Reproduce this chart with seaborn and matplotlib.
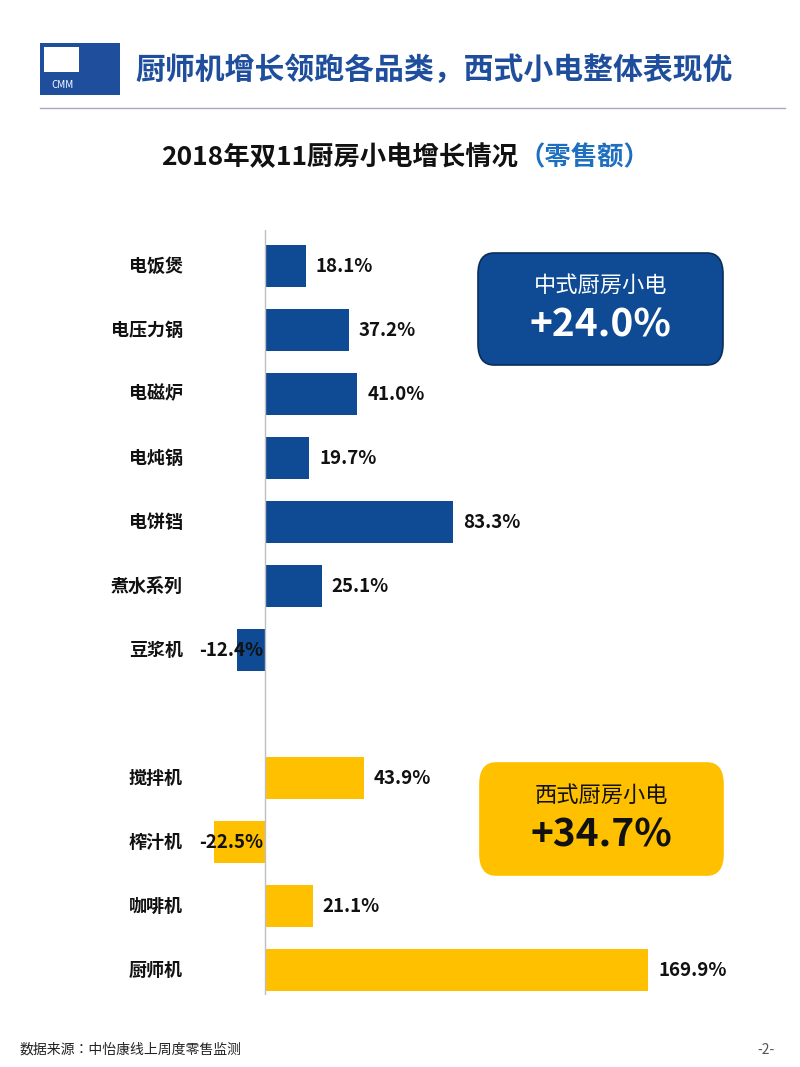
import matplotlib
matplotlib.use("Agg")
import matplotlib.pyplot as plt
from matplotlib.patches import FancyBboxPatch, Rectangle
from matplotlib import font_manager
import seaborn as sns
import pandas as pd

names = {f.name for f in font_manager.fontManager.ttflist}
cjk = [n for n in ["Noto Sans CJK SC", "Noto Sans CJK JP", "Noto Sans CJK TC", "Noto Sans CJK KR"] if n in names]
plt.rcParams["font.family"] = cjk + ["DejaVu Sans"]

chinese_cats = ["电饭煲", "电压力锅", "电磁炉", "电炖锅", "电饼铛", "煮水系列", "豆浆机"]
chinese_vals = [18.1, 37.2, 41.0, 19.7, 83.3, 25.1, -12.4]
western_cats = ["搅拌机", "榨汁机", "咖啡机", "厨师机"]
western_vals = [43.9, -22.5, 21.1, 169.9]

BLUE = "#0F4A94"
YELLOW = "#FFC000"

pos = list(range(len(chinese_cats))) + [len(chinese_cats) + 1 + i for i in range(len(western_cats))]
df = pd.DataFrame({
    "cat": chinese_cats + western_cats,
    "val": chinese_vals + western_vals,
    "pos": pos,
    "grp": ["中式"] * len(chinese_cats) + ["西式"] * len(western_cats),
})

fig = plt.figure(figsize=(8, 10.67), dpi=100)
ax = fig.add_axes([100 / 800, 1 - 995 / 1067, 680 / 800, (995 - 230) / 1067])
sns.barplot(data=df, x="val", y="pos", hue="grp", orient="h", native_scale=True,
            palette={"中式": BLUE, "西式": YELLOW}, width=0.66, legend=False, ax=ax, saturation=1)
ax.set_xlim(-73.2, 228.5)
ax.set_ylim(11.39, -0.5625)
for s in ["top", "right", "bottom", "left"]:
    ax.spines[s].set_visible(False)
ax.set_xticks([]); ax.set_yticks([])
ax.set_xlabel(""); ax.set_ylabel("")
ax.axvline(0, color="#BFBFBF", lw=1)

for c, v, p in zip(df["cat"], df["val"], df["pos"]):
    ax.text(-36.5, p, c, ha="right", va="center", fontsize=13, fontweight="bold", color="#111111")
    if v >= 0:
        ax.text(v + 4.5, p, f"{v:.1f}%", ha="left", va="center", fontsize=13.5, fontweight="bold", color="#111111")
    else:
        ax.text(-0.8, p, f"{v:.1f}%", ha="right", va="center", fontsize=13.5, fontweight="bold", color="#111111")

# header
fig.patches.append(Rectangle((40 / 800, 1 - 95 / 1067), 80 / 800, 52 / 1067, transform=fig.transFigure,
                             facecolor="#1F4E9C", edgecolor="none"))
fig.patches.append(Rectangle((44 / 800, 1 - 72 / 1067), 35 / 800, 25 / 1067, transform=fig.transFigure,
                             facecolor="white", edgecolor="none"))
fig.text(62 / 800, 1 - 85 / 1067, "CMM", color="white", fontsize=7, ha="center", va="center", style="italic")
fig.text(135 / 800, 1 - 70 / 1067, "厨师机增长领跑各品类，西式小电整体表现优", color="#1F4E9C",
         fontsize=21.5, fontweight="bold", va="center", ha="left")
fig.add_artist(plt.Line2D([40 / 800, 785 / 800], [1 - 108 / 1067] * 2, color="#A6A6C8", lw=1))

fig.text(518 / 800, 1 - 158 / 1067, "2018年双11厨房小电增长情况", fontsize=19, fontweight="bold",
         ha="right", va="center", color="#111111")
fig.text(518 / 800, 1 - 158 / 1067, "（零售额）", fontsize=19, fontweight="bold",
         ha="left", va="center", color="#1F6FC0")

# boxes
def box(x0, y0, x1, y1, fc, ec, tc, t1, t2):
    fig.patches.append(FancyBboxPatch((x0 / 800, 1 - y1 / 1067), (x1 - x0) / 800, (y1 - y0) / 1067,
                                      boxstyle="round,pad=0,rounding_size=0.02", transform=fig.transFigure,
                                      facecolor=fc, edgecolor=ec, lw=1.2))
    xc = (x0 + x1) / 2 / 800
    fig.text(xc, 1 - (y0 + 32) / 1067, t1, color=tc, fontsize=16, ha="center", va="center")
    fig.text(xc, 1 - (y0 + 72) / 1067, t2, color=tc, fontsize=28, fontweight="bold", ha="center", va="center")

box(478, 253, 723, 365, "#0F4A94", "#0A2E5C", "white", "中式厨房小电", "+24.0%")
box(480, 763, 723, 875, YELLOW, YELLOW, "#111111", "西式厨房小电", "+34.7%")

fig.text(20 / 800, 1 - 1050 / 1067, "数据来源：中怡康线上周度零售监测", fontsize=10, va="center", color="#222222")
fig.text(775 / 800, 1 - 1050 / 1067, "-2-", fontsize=10, va="center", ha="right", color="#555555")

fig.savefig("out.png", dpi=100)
